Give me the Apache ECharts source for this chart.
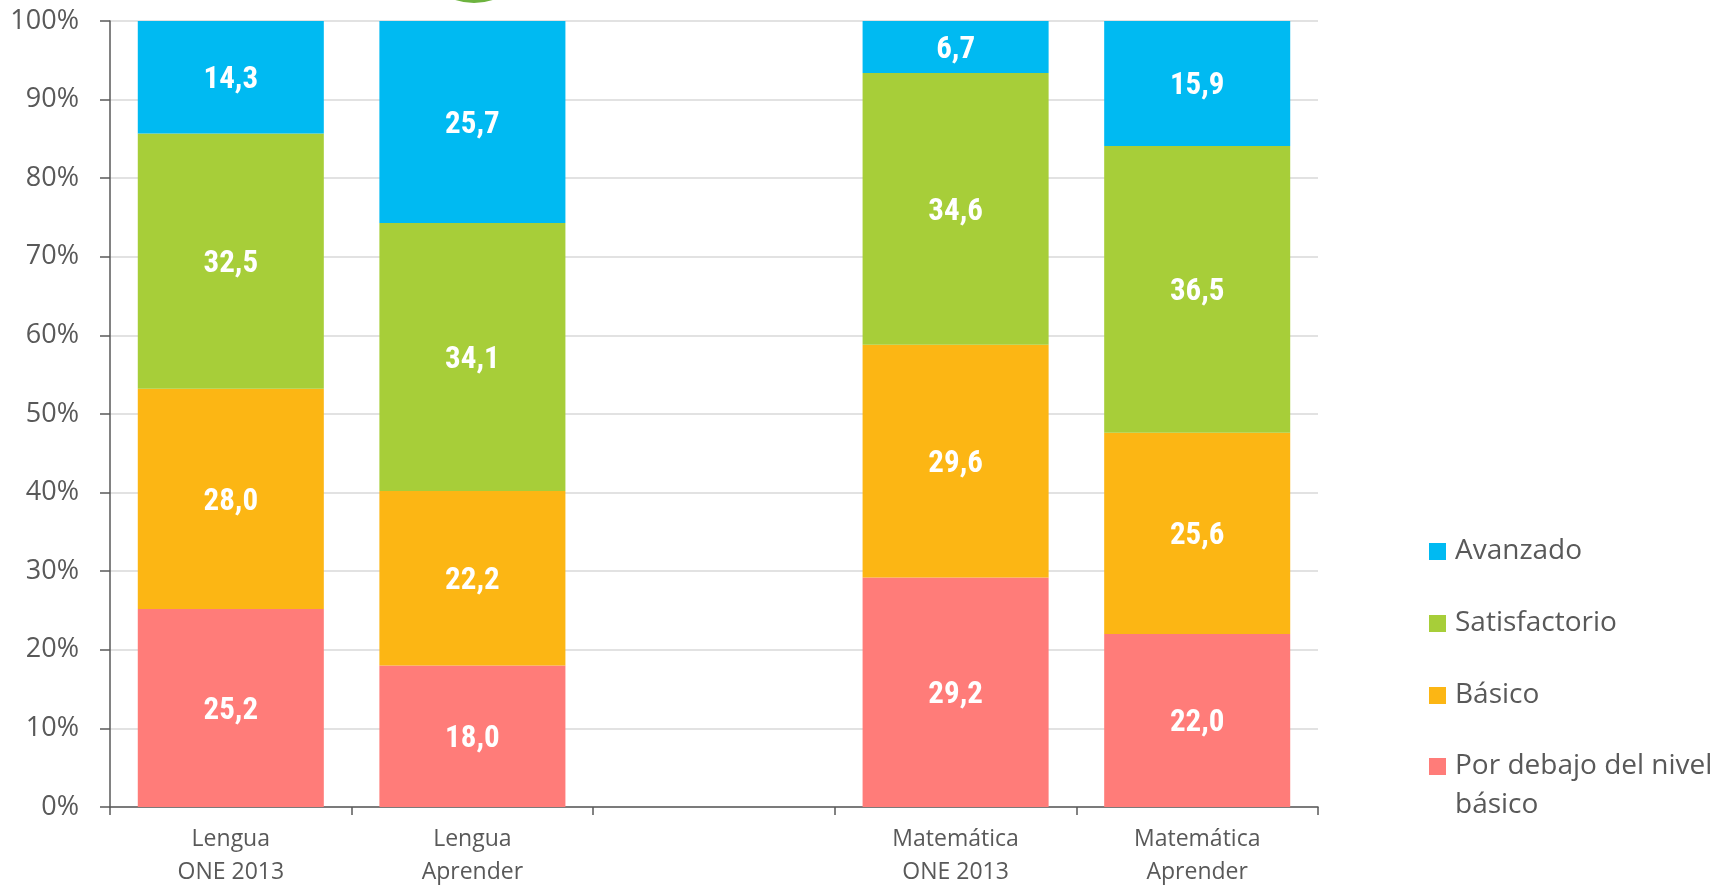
<!DOCTYPE html>
<html>
<head>
<meta charset="utf-8">
<script src="https://cdn.jsdelivr.net/npm/echarts@6/dist/echarts.min.js"></script>
<style>
html,body{margin:0;padding:0;background:#fff;}
#chart{width:1729px;height:894px;}
</style>
</head>
<body>
<div id="chart"></div>
<script>
const categories = ['Lengua\nONE 2013', 'Lengua\nAprender', '', 'Matemática\nONE 2013', 'Matemática\nAprender'];
const porDebajo = [25.2, 18.0, null, 29.2, 22.0];
const basico = [28.0, 22.2, null, 29.6, 25.6];
const satisfactorio = [32.5, 34.1, null, 34.6, 36.5];
const avanzado = [14.3, 25.7, null, 6.7, 15.9];
const seriesNames = ['Por debajo del nivel básico', 'Básico', 'Satisfactorio', 'Avanzado'];
const colors = ['#FF7C79', '#FCB614', '#A7CE39', '#00BAF2'];
const yTicks = {min: 0, max: 100, interval: 10};

const chart = echarts.init(document.getElementById('chart'));
const labelFont = "'Roboto Condensed', 'Roboto', sans-serif";
const textFont = "'Open Sans', 'Noto Sans', sans-serif";
const fmt = p => (p.value == null ? '' : p.value.toFixed(1).replace('.', ','));
const seriesData = [porDebajo, basico, satisfactorio, avanzado];

const series = seriesData.map((d, i) => ({
  name: seriesNames[i],
  type: 'bar',
  stack: 'total',
  data: d,
  barCategoryGap: '23%',
  itemStyle: {color: colors[i]},
  label: {
    show: true,
    position: 'inside',
    offset: [0, 3],
    color: '#ffffff',
    fontFamily: labelFont,
    fontStyle: 'condensed',
    fontWeight: 'bold',
    fontSize: 31,
    formatter: fmt
  }
}));

const legendText = {fontFamily: textFont, fontSize: 28, color: '#595959', lineHeight: 37, padding: [0, 0, 0, 4]};
const legendText2 = {fontFamily: textFont, fontSize: 28, color: '#595959', lineHeight: 39, padding: [0, 0, 0, 4]};

chart.setOption({
  animation: false,
  backgroundColor: '#ffffff',
  grid: {left: 110, right: 411, top: 21, bottom: 87, containLabel: false},
  graphic: [{
    type: 'circle',
    shape: {cx: 474, cy: -57, r: 60},
    style: {fill: '#6DB33F'},
    z: 0
  }],
  legend: [{
    orient: 'vertical',
    left: 1424,
    top: 528,
    itemWidth: 17,
    itemHeight: 17,
    itemGap: 35,
    icon: 'rect',
    textStyle: legendText,
    data: ['Avanzado', 'Satisfactorio', 'Básico']
  }, {
    orient: 'vertical',
    left: 1424,
    top: 703,
    itemWidth: 17,
    itemHeight: 17,
    icon: 'rect',
    textStyle: legendText2,
    data: ['Por debajo del nivel básico'],
    formatter: () => '\u00a0\nPor debajo del nivel\nbásico'
  }],
  xAxis: {
    type: 'category',
    data: categories,
    axisLine: {show: true, lineStyle: {color: '#595959', width: 1.5}},
    axisTick: {show: true, length: 8, lineStyle: {color: '#595959', width: 1.5}},
    axisLabel: {fontFamily: textFont, fontSize: 23, color: '#595959', lineHeight: 33, margin: 16}
  },
  yAxis: {
    type: 'value',
    min: yTicks.min,
    max: yTicks.max,
    interval: yTicks.interval,
    axisLine: {show: true, lineStyle: {color: '#595959', width: 1.5}},
    axisTick: {show: true, length: 10, lineStyle: {color: '#595959', width: 1.5}},
    axisLabel: {formatter: '{value}%', fontFamily: textFont, fontSize: 27, color: '#595959', margin: 31},
    splitLine: {show: true, lineStyle: {color: '#D9D9D9', width: 1.5}}
  },
  series: series
});
</script>
</body>
</html>
